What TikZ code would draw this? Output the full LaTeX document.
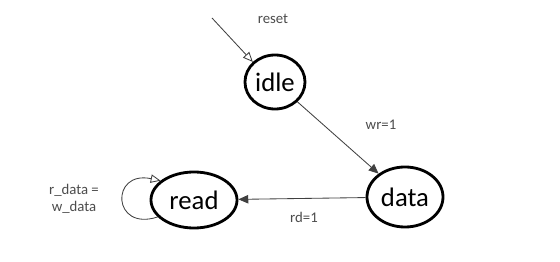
\documentclass[tikz,border=0pt]{standalone}
\usepackage{fontspec}
\setmainfont{Carlito}
\usetikzlibrary{shapes.geometric,arrows.meta}

\tikzset{
  state/.style={draw, ellipse, inner sep=0pt, line width=2pt, font=\fontsize{19}{21}\selectfont},
  trans/.style={draw=black!75, line width=0.6pt},
  cond/.style={text=black!70, font=\fontsize{10.5}{12.5}\selectfont, align=center},
}

\begin{document}
\begin{tikzpicture}[x=0.025cm, y=-0.025cm]
  \useasboundingbox (0,0) rectangle (560,262);

  % states
  \node[state, minimum width=1.5cm, minimum height=1.35cm] (idle) at (275,82) {idle};
  \node[state, minimum width=1.9cm, minimum height=1.5cm] (data) at (405,197) {data};
  \node[state, minimum width=2.15cm, minimum height=1.4cm] (read) at (194,200) {read};

  % reset entry
  \coordinate (start) at (212,18);
  \draw[trans, -{Triangle[open, length=7pt, width=6pt]}] (start) -- (idle.north west);
  \node[cond] (resetlbl) at (273,19) {reset};

  % transitions
  \draw[trans, -{Triangle[length=7pt, width=6pt]}] (idle) -- (data);
  \node[cond] (wrlbl) at (381,125) {wr=1};
  \draw[trans, -{Triangle[length=7pt, width=6pt]}] (data) -- (read);
  \node[cond] (rdlbl) at (304,217) {rd=1};

  % self loop on read
  \draw[trans, -{Triangle[open, length=7pt, width=6pt]}]
    (read.205) .. controls (112,232) and (110,170) .. (read.150);
  \node[cond] (looplbl) at (74,199) {r\_data =\\w\_data};
\end{tikzpicture}
\end{document}
